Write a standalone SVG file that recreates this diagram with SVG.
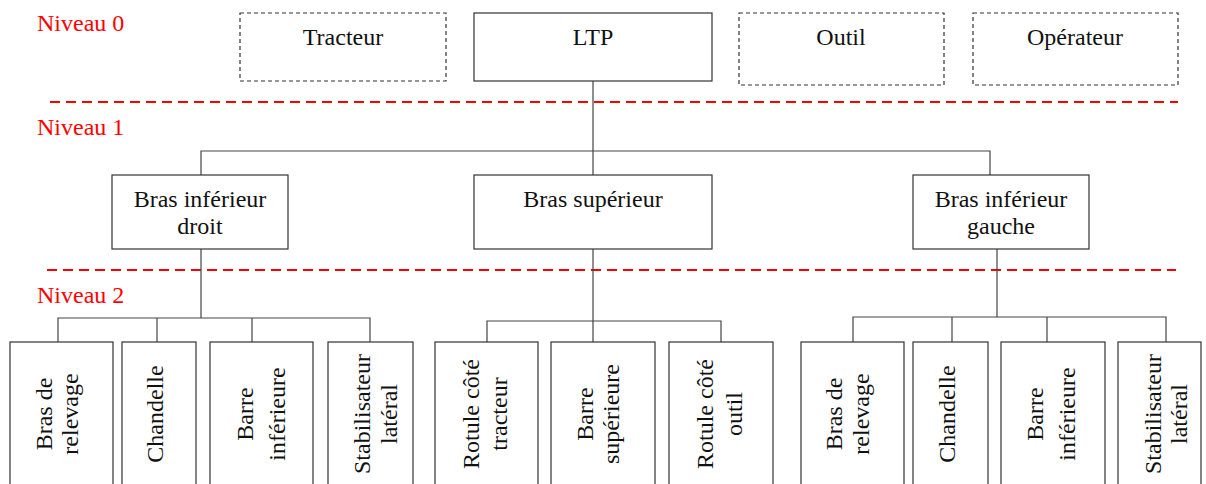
<svg xmlns="http://www.w3.org/2000/svg" width="1206" height="484" viewBox="0 0 1206 484">
  <style>
    .box { fill: #ffffff; stroke: #333333; stroke-width: 1.2; }
    .ext { fill: #ffffff; stroke: #333333; stroke-width: 1.2; stroke-dasharray: 4 3; }
    .lbl { font-family: "Liberation Serif", "Times New Roman", serif; font-size: 24px; fill: #111111; text-anchor: middle; }
    .lvl { font-family: "Liberation Serif", "Times New Roman", serif; font-size: 24px; fill: #ff0000; }
    .sep { stroke: #ff0000; stroke-width: 2; stroke-dasharray: 10 6; fill: none; }
    .wire { stroke: #444444; stroke-width: 1.2; fill: none; }
  </style>

  <!-- level labels and separators -->
  <g id="levels">
    <text class="lvl" x="37" y="31">Niveau 0</text>
    <text class="lvl" x="37" y="135">Niveau 1</text>
    <text class="lvl" x="37" y="303">Niveau 2</text>
    <line class="sep" x1="50" y1="102" x2="1178" y2="102"/>
    <line class="sep" x1="47" y1="270" x2="1176" y2="270"/>
  </g>

  <!-- connectors -->
  <g id="connectors">
    <path class="wire" d="M593 81 V175"/>
    <path class="wire" d="M201 175 V151 H990 V175"/>
    <!-- right lower arm branch -->
    <path class="wire" d="M201 249 V318"/>
    <path class="wire" d="M58 342 V318 H370 V342"/>
    <path class="wire" d="M157 318 V342"/>
    <path class="wire" d="M252 318 V342"/>
    <!-- upper arm branch -->
    <path class="wire" d="M593 249 V342"/>
    <path class="wire" d="M487 342 V321 H721 V342"/>
    <!-- left lower arm branch -->
    <path class="wire" d="M997 249 V317"/>
    <path class="wire" d="M853 342 V317 H1166 V342"/>
    <path class="wire" d="M952 317 V342"/>
    <path class="wire" d="M1047 317 V342"/>
  </g>

  <!-- level 0 -->
  <g id="tracteur">
    <rect class="ext" x="240" y="13" width="206" height="68"/>
    <text class="lbl" x="343" y="45">Tracteur</text>
  </g>
  <g id="ltp">
    <rect class="box" x="474" y="13" width="238" height="68"/>
    <text class="lbl" x="593" y="45">LTP</text>
  </g>
  <g id="outil">
    <rect class="ext" x="739" y="13" width="205" height="72"/>
    <text class="lbl" x="841" y="45">Outil</text>
  </g>
  <g id="operateur">
    <rect class="ext" x="973" y="13" width="205" height="72"/>
    <text class="lbl" x="1075" y="45">Opérateur</text>
  </g>

  <!-- level 1 -->
  <g id="bras-inf-droit">
    <rect class="box" x="112" y="175" width="176" height="74"/>
    <text class="lbl" x="200" y="207">Bras inférieur</text>
    <text class="lbl" x="200" y="234">droit</text>
  </g>
  <g id="bras-sup">
    <rect class="box" x="474" y="175" width="238" height="74"/>
    <text class="lbl" x="593" y="207">Bras supérieur</text>
  </g>
  <g id="bras-inf-gauche">
    <rect class="box" x="913" y="175" width="176" height="74"/>
    <text class="lbl" x="1001" y="207">Bras inférieur</text>
    <text class="lbl" x="1001" y="234">gauche</text>
  </g>

  <!-- level 2, under the right lower arm -->
  <g id="d-bras-relevage">
    <rect class="box" x="10" y="342" width="103" height="160"/>
    <g transform="translate(0 414) rotate(-90)">
      <text class="lbl" x="0" y="52">Bras de</text>
      <text class="lbl" x="0" y="78">relevage</text>
    </g>
  </g>
  <g id="d-chandelle">
    <rect class="box" x="122" y="342" width="74" height="160"/>
    <g transform="translate(0 414) rotate(-90)">
      <text class="lbl" x="0" y="163">Chandelle</text>
    </g>
  </g>
  <g id="d-barre-inf">
    <rect class="box" x="210" y="342" width="103" height="160"/>
    <g transform="translate(0 414) rotate(-90)">
      <text class="lbl" x="0" y="253">Barre</text>
      <text class="lbl" x="0" y="285">inférieure</text>
    </g>
  </g>
  <g id="d-stabilisateur">
    <rect class="box" x="328" y="342" width="85" height="160"/>
    <g transform="translate(0 414) rotate(-90)">
      <text class="lbl" x="0" y="370">Stabilisateur</text>
      <text class="lbl" x="0" y="397">latéral</text>
    </g>
  </g>

  <!-- level 2, under the upper arm -->
  <g id="s-rotule-tracteur">
    <rect class="box" x="435" y="342" width="103" height="160"/>
    <g transform="translate(0 414) rotate(-90)">
      <text class="lbl" x="0" y="479">Rotule côté</text>
      <text class="lbl" x="0" y="507">tracteur</text>
    </g>
  </g>
  <g id="s-barre-sup">
    <rect class="box" x="551" y="342" width="104" height="160"/>
    <g transform="translate(0 414) rotate(-90)">
      <text class="lbl" x="0" y="593">Barre</text>
      <text class="lbl" x="0" y="619">supérieure</text>
    </g>
  </g>
  <g id="s-rotule-outil">
    <rect class="box" x="669" y="342" width="104" height="160"/>
    <g transform="translate(0 414) rotate(-90)">
      <text class="lbl" x="0" y="713">Rotule côté</text>
      <text class="lbl" x="0" y="742">outil</text>
    </g>
  </g>

  <!-- level 2, under the left lower arm -->
  <g id="g-bras-relevage">
    <rect class="box" x="801" y="342" width="103" height="160"/>
    <g transform="translate(0 414) rotate(-90)">
      <text class="lbl" x="0" y="842">Bras de</text>
      <text class="lbl" x="0" y="869">relevage</text>
    </g>
  </g>
  <g id="g-chandelle">
    <rect class="box" x="913" y="342" width="75" height="160"/>
    <g transform="translate(0 414) rotate(-90)">
      <text class="lbl" x="0" y="955">Chandelle</text>
    </g>
  </g>
  <g id="g-barre-inf">
    <rect class="box" x="1001" y="342" width="104" height="160"/>
    <g transform="translate(0 414) rotate(-90)">
      <text class="lbl" x="0" y="1043">Barre</text>
      <text class="lbl" x="0" y="1075">inférieure</text>
    </g>
  </g>
  <g id="g-stabilisateur">
    <rect class="box" x="1118" y="342" width="83" height="160"/>
    <g transform="translate(0 414) rotate(-90)">
      <text class="lbl" x="0" y="1161">Stabilisateur</text>
      <text class="lbl" x="0" y="1187">latéral</text>
    </g>
  </g>
</svg>
